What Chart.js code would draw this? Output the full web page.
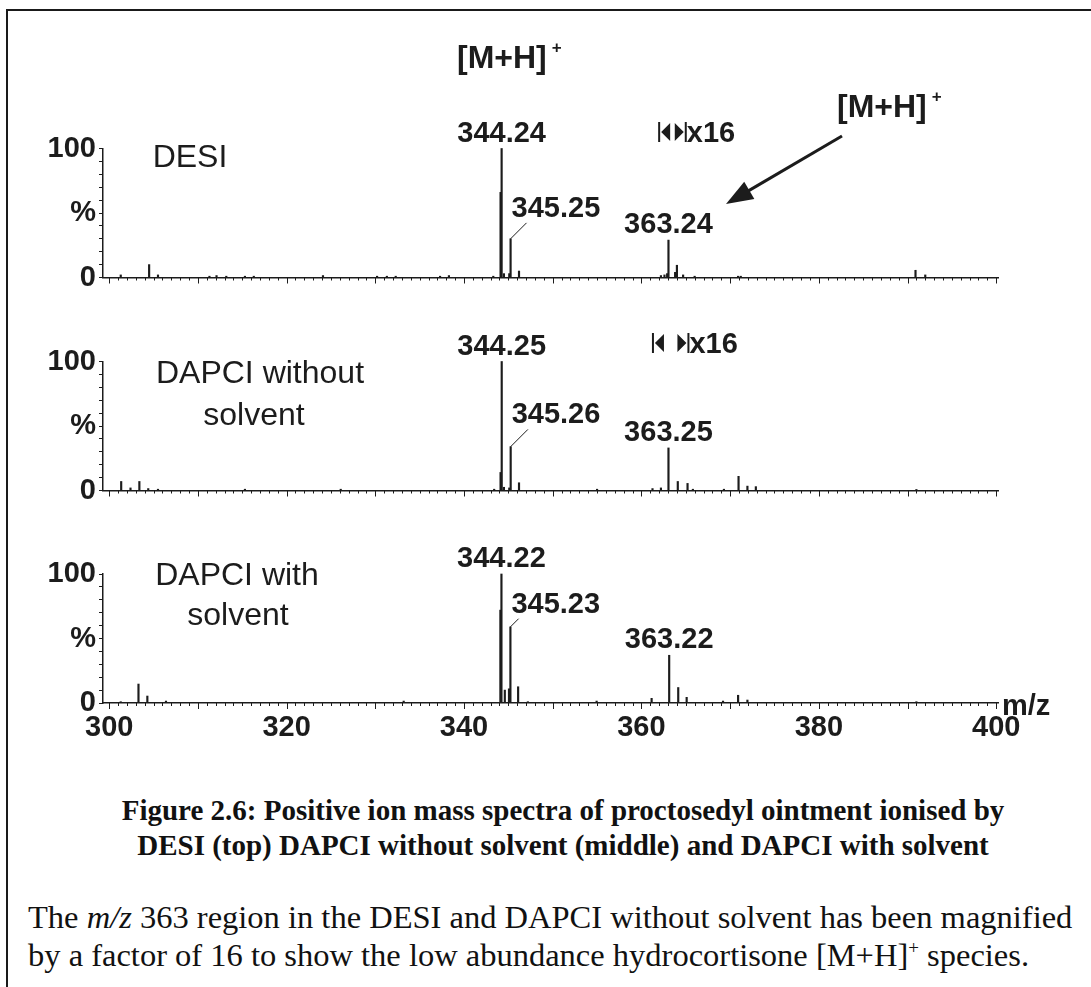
<!DOCTYPE html>
<html lang="en">
<head>
    <meta charset="UTF-8">
    <title>Figure 2.6</title>
    <script src="https://cdn.jsdelivr.net/npm/chart.js"></script>
    <style>
        html, body { margin: 0; padding: 0; background: #fff; overflow: hidden; }
        body { width: 1091px; height: 987px; position: relative; }
        .rule-top { position: absolute; left: 6px; top: 9px; width: 1085px; height: 2px; background: #1a1a1a; }
        .rule-left { position: absolute; left: 6px; top: 9px; width: 2px; height: 978px; background: #1a1a1a; }
        canvas { position: absolute; left: 0; }
        .caption { position: absolute; left: 8px; width: 1110px; top: 793px; text-align: center;
                   font-family: "Liberation Serif", "Times New Roman", serif; font-weight: bold;
                   font-size: 29px; line-height: 35px; color: #111; }
        .note { position: absolute; left: 28px; top: 898px; white-space: nowrap;
                font-family: "Liberation Serif", "Times New Roman", serif;
                font-size: 32.5px; line-height: 38px; color: #111; }
        .note sup { font-size: 19px; line-height: 0; vertical-align: 12px; }
    </style>
</head>
<body>
    <div class="rule-top"></div>
    <div class="rule-left"></div>
    <canvas id="desi"></canvas>
    <canvas id="dapciDry"></canvas>
    <canvas id="dapciWet"></canvas>
    <div class="caption">Figure 2.6: Positive ion mass spectra of proctosedyl ointment ionised by<br>DESI (top) DAPCI without solvent (middle) and DAPCI with solvent</div>
    <div class="note">The <i>m/z</i> 363 region in the DESI and DAPCI without solvent has been magnified<br>by a factor of 16 to show the low abundance hydrocortisone [M+H]<sup>+</sup> species.</div>
    <script>
        // axis labels
        const xTickLabels = [300, 320, 340, 360, 380, 400];
        const yTickValues = [0, 50, 100];
        const yTickLabels = ['0', '%', '100'];

        // DESI (top) - heights as drawn, m/z 362-365 shown x16
        const desiMz = [301.3, 304.5, 305.5, 311.3, 312.1, 313.2, 315.3, 316.3, 324.1, 330.2, 331.3, 332.3, 337.3, 338.3, 343.3,
                        344.12, 344.24, 344.5, 345.1, 345.25, 346.2, 362.2, 362.6, 362.9, 363.05, 363.8, 364.0, 364.7, 366.0,
                        370.9, 371.2, 390.9, 392.0];
        const desiIntensity = [2, 10, 2, 1, 1.5, 1, 1, 1, 1.5, 1, 1, 1, 1, 1.5, 1,
                               66, 100, 3, 3, 30, 5, 1.5, 2, 3, 29, 4, 9.5, 2, 1,
                               1, 1, 5.6, 2];
        const desiLabelMz = [344.24, 345.25, 363.05];
        const desiLabelText = ['344.24', '345.25', '363.24'];
        const desiMagRange = [362.0, 365.0];

        // DAPCI without solvent (middle)
        const dryMz = [301.35, 302.4, 303.4, 304.4, 305.5, 315.3, 326.1, 343.4, 344.12, 344.25, 344.5, 345.1, 345.26, 346.2,
                       355.0, 361.25, 362.2, 363.05, 364.1, 365.2, 365.8, 369.3, 370.95, 371.95, 372.9, 391.0];
        const dryIntensity = [7, 2, 7, 1.5, 1, 1, 1, 1, 14, 100, 2.5, 2, 34, 6,
                              1, 1.5, 2, 33, 7, 5.5, 1, 1, 11, 3.4, 3, 0.8];
        const dryLabelMz = [344.25, 345.26, 363.05];
        const dryLabelText = ['344.25', '345.26', '363.25'];
        const dryMagRange = [361.3, 365.3];

        // DAPCI with solvent (bottom)
        const wetMz = [301.3, 303.3, 304.3, 306.4, 333.2, 344.1, 344.22, 344.6, 345.07, 345.23, 346.1, 347.2,
                       354.95, 361.15, 363.13, 364.15, 365.1, 369.2, 370.9, 371.95, 391.0];
        const wetIntensity = [1, 14.7, 5.4, 1.5, 1.5, 72, 100, 10, 11, 59, 12.6, 1,
                              1.5, 3.6, 37, 12, 4.4, 1.5, 6, 2.3, 1];
        const wetLabelMz = [344.22, 345.23, 363.13];
        const wetLabelText = ['344.22', '345.23', '363.22'];

        const INK = '#1c1c1c';
        const SANS = '"Liberation Sans", Arial, Helvetica, sans-serif';
        const BOLD = 'bold 29px ' + SANS;
        Chart.defaults.font.family = SANS;
        Chart.defaults.color = INK;

        // page layout of the three panels (all y in page pixels)
        const panels = [
            { id: 'desi', top: 0, height: 300, areaTop: 148.5, areaBottom: 277.5,
              mz: desiMz, intensity: desiIntensity, labelMz: desiLabelMz, labelText: desiLabelText, sideLevel: 47,
              name: ['DESI'], nameX: [190], nameY: [167], mag: desiMagRange, magY: 132, axisLabels: false },
            { id: 'dapciDry', top: 300, height: 213, areaTop: 361.5, areaBottom: 490.5,
              mz: dryMz, intensity: dryIntensity, labelMz: dryLabelMz, labelText: dryLabelText, sideLevel: 52,
              name: ['DAPCI without', 'solvent'], nameX: [260, 254], nameY: [383, 425], mag: dryMagRange, magY: 343, axisLabels: false },
            { id: 'dapciWet', top: 513, height: 268, areaTop: 574, areaBottom: 703,
              mz: wetMz, intensity: wetIntensity, labelMz: wetLabelMz, labelText: wetLabelText, sideLevel: 70,
              name: ['DAPCI with', 'solvent'], nameX: [237, 238], nameY: [585, 625], mag: null, axisLabels: true }
        ];

        function mPlusH(ctx, left, base) {
            ctx.textAlign = 'left';
            ctx.font = 'bold 32px ' + SANS;
            ctx.fillText('[M+H]', left, base);
            const w = ctx.measureText('[M+H]').width;
            ctx.font = 'bold 17px ' + SANS;
            ctx.fillText('+', left + w + 5, base - 15);
        }

        function makeDecor(p) {
            return {
                id: 'decor',
                afterDatasetsDraw(chart) {
                    const ctx = chart.ctx, x = chart.scales.x, y = chart.scales.y;
                    const off = p.top, yb = chart.chartArea.bottom;
                    ctx.save();
                    ctx.strokeStyle = INK;
                    ctx.fillStyle = INK;
                    ctx.textBaseline = 'alphabetic';

                    // m/z ticks: every unit, longer every ten
                    ctx.lineWidth = 1;
                    for (let v = 300; v <= 400; v++) {
                        const px = Math.round(x.getPixelForValue(v)) + 0.5;
                        ctx.beginPath();
                        ctx.moveTo(px, yb);
                        ctx.lineTo(px, yb + (v % 10 === 0 ? 6 : 3));
                        ctx.stroke();
                    }

                    // peak labels
                    ctx.font = BOLD;
                    p.labelMz.forEach((m, k) => {
                        const i = p.mz.indexOf(m);
                        const px = x.getPixelForValue(m), py = y.getPixelForValue(p.intensity[i]);
                        if (k === 1) {
                            const base = y.getPixelForValue(p.sideLevel);
                            const ey = base + 6, dx = py - ey;
                            ctx.beginPath();
                            ctx.moveTo(px, py);
                            ctx.lineTo(px + dx, ey);
                            ctx.stroke();
                            ctx.textAlign = 'left';
                            ctx.fillText(p.labelText[k], px + 1, base);
                        } else {
                            ctx.textAlign = 'center';
                            ctx.fillText(p.labelText[k], px, py - 7);
                        }
                    });

                    // sample names
                    ctx.font = '32px ' + SANS;
                    ctx.textAlign = 'center';
                    p.name.forEach((t, k) => ctx.fillText(t, p.nameX[k], p.nameY[k] - off));

                    // x16 magnification markers
                    if (p.mag) {
                        const x0 = x.getPixelForValue(p.mag[0]), x1 = x.getPixelForValue(p.mag[1]);
                        const yc = p.magY - off;
                        ctx.lineWidth = 2;
                        ctx.beginPath();
                        ctx.moveTo(x0, yc - 10); ctx.lineTo(x0, yc + 10);
                        ctx.moveTo(x1, yc - 10); ctx.lineTo(x1, yc + 10);
                        ctx.stroke();
                        ctx.beginPath();
                        ctx.moveTo(x0 + 2, yc); ctx.lineTo(x0 + 11, yc - 9); ctx.lineTo(x0 + 11, yc + 9); ctx.closePath();
                        ctx.moveTo(x1 - 2, yc); ctx.lineTo(x1 - 11, yc - 9); ctx.lineTo(x1 - 11, yc + 9); ctx.closePath();
                        ctx.fill();
                        ctx.font = BOLD;
                        ctx.textAlign = 'left';
                        ctx.fillText('x16', x1 + 1, yc + 10);
                    }

                    if (p.id === 'desi') {
                        mPlusH(ctx, 457, 68);
                        mPlusH(ctx, 837, 117);
                        // arrow towards the magnified 363 peak
                        const tx = 726, ty = 204, sx = 842, sy = 136;
                        const ang = Math.atan2(ty - sy, tx - sx);
                        ctx.lineWidth = 3;
                        ctx.beginPath();
                        ctx.moveTo(sx, sy);
                        ctx.lineTo(tx - 20 * Math.cos(ang), ty - 20 * Math.sin(ang));
                        ctx.stroke();
                        ctx.beginPath();
                        ctx.moveTo(tx, ty);
                        ctx.lineTo(tx - 27 * Math.cos(ang) + 10 * Math.sin(ang), ty - 27 * Math.sin(ang) - 10 * Math.cos(ang));
                        ctx.lineTo(tx - 27 * Math.cos(ang) - 10 * Math.sin(ang), ty - 27 * Math.sin(ang) + 10 * Math.cos(ang));
                        ctx.closePath();
                        ctx.fill();
                    }

                    if (p.axisLabels) {
                        ctx.font = BOLD;
                        ctx.textAlign = 'left';
                        ctx.fillText('m/z', 1002, 715 - off);
                    }
                    ctx.restore();
                }
            };
        }

        panels.forEach(p => {
            const canvas = document.getElementById(p.id);
            canvas.width = 1091;
            canvas.height = p.height;
            canvas.style.top = p.top + 'px';

            new Chart(canvas, {
                type: 'bar',
                data: {
                    datasets: [{
                        data: p.mz.map((m, i) => ({ x: m, y: p.intensity[i] })),
                        backgroundColor: INK,
                        barThickness: 1.5,
                        clip: false
                    }]
                },
                options: {
                    responsive: false,
                    animation: false,
                    layout: { padding: { top: p.areaTop - p.top, right: 1091 - 998, left: 0, bottom: 0 } },
                    plugins: { legend: { display: false }, tooltip: { enabled: false } },
                    scales: {
                        x: {
                            type: 'linear', min: 299.3, max: 400.2, offset: false,
                            grid: { display: false, drawTicks: true, tickLength: 6 },
                            border: { display: true, color: INK, width: 1.5 },
                            ticks: {
                                display: p.axisLabels, stepSize: 20, includeBounds: false,
                                autoSkip: false, maxRotation: 0, padding: 2,
                                font: { size: 29, weight: 'bold' },
                                callback: v => xTickLabels.includes(v) ? String(v) : ''
                            },
                            afterFit: s => { s.height = p.top + p.height - p.areaBottom; }
                        },
                        y: {
                            min: 0, max: 100,
                            grid: { display: true, drawOnChartArea: false, drawTicks: true, tickLength: 4, color: INK },
                            border: { display: true, color: INK, width: 1.5 },
                            ticks: {
                                stepSize: 10, autoSkip: false, padding: 3,
                                font: { size: 29, weight: 'bold' },
                                callback: v => {
                                    const i = yTickValues.indexOf(v);
                                    return i >= 0 ? yTickLabels[i] : '';
                                }
                            },
                            afterFit: s => { s.width = 103; }
                        }
                    }
                },
                plugins: [makeDecor(p)]
            });
        });
    </script>
</body>
</html>
